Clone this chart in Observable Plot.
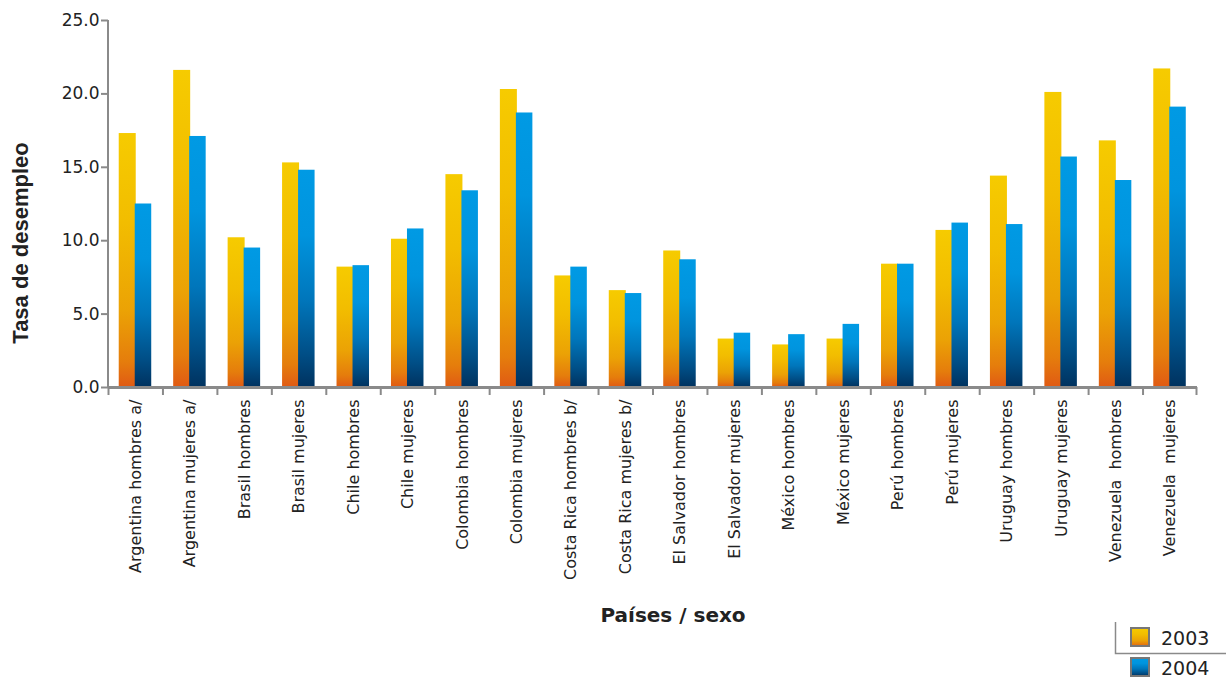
<!DOCTYPE html>
<html>
<head>
<meta charset="utf-8">
<script src="https://cdn.jsdelivr.net/npm/d3@7"></script>
<script src="https://cdn.jsdelivr.net/npm/@observablehq/plot@0.6"></script>
<style>
  html, body { margin: 0; padding: 0; background: #fff; }
  #chart svg { display: block; }
  #chart text { white-space: pre; }
</style>
</head>
<body>
<div id="chart"></div>
<script>
const categories = [
  "Argentina hombres a/", "Argentina mujeres a/", "Brasil hombres", "Brasil mujeres",
  "Chile hombres", "Chile mujeres", "Colombia hombres", "Colombia mujeres",
  "Costa Rica hombres b/", "Costa Rica mujeres b/", "El Salvador hombres", "El Salvador mujeres",
  "México hombres", "México mujeres", "Perú hombres", "Perú mujeres",
  "Uruguay hombres", "Uruguay mujeres", "Venezuela  hombres", "Venezuela  mujeres"
];
const values2003 = [17.3, 21.6, 10.2, 15.3, 8.2, 10.1, 14.5, 20.3, 7.6, 6.6, 9.3, 3.3, 2.9, 3.3, 8.4, 10.7, 14.4, 20.1, 16.8, 21.7];
const values2004 = [12.5, 17.1, 9.5, 14.8, 8.3, 10.8, 13.4, 18.7, 8.2, 6.4, 8.7, 3.7, 3.6, 4.3, 8.4, 11.2, 11.1, 15.7, 14.1, 19.1];
const years = ["2003", "2004"];
const yTicks = [0, 5, 10, 15, 20, 25];

const W = 1226, H = 679;
const mL = 108, mR = 29, mT = 20, mB = H - 387;
const bw = (W - mL - mR) / categories.length;
const barW = 16;

const d2003 = categories.map((c, i) => ({cat: c, v: values2003[i]}));
const d2004 = categories.map((c, i) => ({cat: c, v: values2004[i]}));

const axisColor = "#8a8a8a";

const plot = Plot.plot({
  width: W,
  height: H,
  marginLeft: mL,
  marginRight: mR,
  marginTop: mT,
  marginBottom: mB,
  style: {fontFamily: "DejaVu Sans, Verdana, sans-serif", background: "#fff", color: "#222"},
  x: {domain: categories, padding: 0, round: false, label: null},
  y: {domain: [0, 25], label: null},
  marks: [
    Plot.barY(d2003, {x: "cat", y: "v", fill: "url(#g2003)", insetLeft: bw / 2 - barW - 0.5, insetRight: bw / 2 - 0.5}),
    Plot.barY(d2004, {x: "cat", y: "v", fill: "url(#g2004)", insetLeft: bw / 2 - 0.5, insetRight: bw / 2 - barW}),
    // y axis
    Plot.axisY({ticks: yTicks, tickFormat: d3.format(".1f"), tickSize: 7, tickPadding: 2, fontSize: 17, stroke: axisColor, strokeWidth: 2, color: "#222"}),
    // x axis labels
    Plot.axisX({tickSize: 0, tickPadding: 12, tickRotate: -90, fontSize: 16, color: "#222"}),
    // x axis line
    Plot.ruleY([0], {stroke: axisColor, strokeWidth: 3}),
    // x ticks at band edges
    Plot.ruleX(categories, {x: d => d, dx: -bw / 2, y1: 0, y2: 0, insetBottom: -8, stroke: axisColor, strokeWidth: 2}),
    Plot.ruleX([categories[categories.length - 1]], {x: d => d, dx: bw / 2 - 1, y1: 0, y2: 0, insetBottom: -8, stroke: axisColor, strokeWidth: 2})
  ]
});

const svg = d3.select(plot);
const defs = svg.insert("defs", ":first-child");
const g1 = defs.append("linearGradient").attr("id", "g2003").attr("x1", 0).attr("y1", 0).attr("x2", 0).attr("y2", 1);
[[0, "#f6cb00"], [0.35, "#f2bd00"], [0.7, "#eba205"], [0.9, "#e57d0c"], [1, "#e05a14"]].forEach(([o, c]) =>
  g1.append("stop").attr("offset", o).attr("stop-color", c));
const g2 = defs.append("linearGradient").attr("id", "g2004").attr("x1", 0).attr("y1", 0).attr("x2", 0).attr("y2", 1);
[[0, "#009ae4"], [0.3, "#0094de"], [0.6, "#0076bb"], [0.85, "#004e86"], [1, "#00325f"]].forEach(([o, c]) =>
  g2.append("stop").attr("offset", o).attr("stop-color", c));

// y axis line, from the plot's own y scale
const ys = plot.scale("y");
svg.append("line")
  .attr("x1", mL).attr("x2", mL)
  .attr("y1", ys.apply(yTicks[yTicks.length - 1])).attr("y2", ys.apply(0) + 1)
  .attr("stroke", axisColor).attr("stroke-width", 2);

// axis titles
svg.append("text")
  .attr("transform", "translate(28,243) rotate(-90)")
  .attr("text-anchor", "middle")
  .attr("font-family", "Liberation Sans, Arial, sans-serif")
  .attr("font-weight", "bold")
  .attr("font-size", 22)
  .attr("fill", "#222")
  .text("Tasa de desempleo");

svg.append("text")
  .attr("x", 673).attr("y", 622)
  .attr("text-anchor", "middle")
  .attr("font-family", "DejaVu Sans, Verdana, sans-serif")
  .attr("font-weight", "bold")
  .attr("font-size", 20)
  .attr("fill", "#222")
  .text("Países / sexo");

// legend
const lg = svg.append("g");
lg.append("path").attr("d", "M1115.5,622V653.5H1226").attr("fill", "none").attr("stroke", axisColor).attr("stroke-width", 1.5);
years.forEach((yr, i) => {
  const y0 = 627 + i * 30;
  lg.append("rect").attr("x", 1131).attr("y", y0 + 1).attr("width", 18).attr("height", 18)
    .attr("fill", `url(#g${yr})`).attr("stroke", "#777").attr("stroke-width", 2);
  lg.append("text").attr("x", 1161).attr("y", y0 + 18)
    .attr("text-anchor", "start")
    .attr("font-family", "DejaVu Sans, Verdana, sans-serif").attr("font-size", 19).attr("fill", "#222")
    .text(yr);
});

document.getElementById("chart").appendChild(plot);
</script>
</body>
</html>
